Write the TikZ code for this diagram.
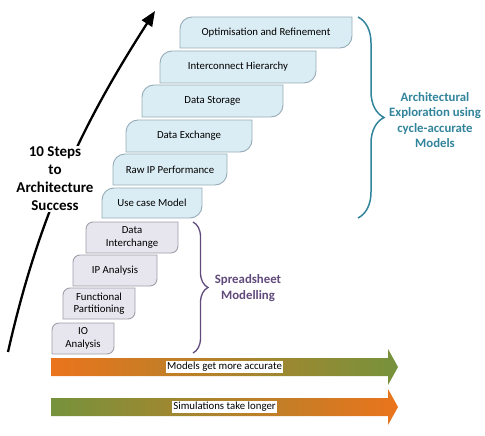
\documentclass[tikz,border=0pt]{standalone}
\usepackage{fontspec}
\setmainfont{Carlito}
\usetikzlibrary{decorations.pathreplacing,arrows.meta}
\definecolor{boxblue}{RGB}{219,237,244}
\definecolor{boxblueline}{RGB}{150,172,184}
\definecolor{boxgray}{RGB}{231,229,237}
\definecolor{boxgrayline}{RGB}{160,160,170}
\definecolor{archteal}{RGB}{49,132,155}
\definecolor{sheetpurple}{RGB}{96,74,123}
\definecolor{accorange}{RGB}{234,116,28}
\definecolor{accgreen}{RGB}{118,146,60}
\tikzset{
  bluebox/.style={fill=boxblue,draw=boxblueline,line width=0.9pt},
  graybox/.style={fill=boxgray,draw=boxgrayline,line width=0.9pt},
  boxtext/.style={inner sep=0pt,align=center,font=\fontsize{10.8}{12.6}\selectfont},
  bracelabel/.style={align=center,font=\fontsize{12.8}{15.3}\selectfont\bfseries},
  barlabel/.style={fill=white,inner sep=1.5pt,font=\fontsize{10.8}{12.6}\selectfont},
}
\newcommand\leafbox[8]{%
  \draw[#7] (#2,-#5) -- (#2,-#3-#6) arc[start angle=180,end angle=90,radius=#6pt]
    -- (#4,-#3) -- (#4,-#5+#6) arc[start angle=0,end angle=-90,radius=#6pt] -- cycle;
  \node[boxtext] (#1) at ({(#2+#4)/2},{-(#3+#5)/2}) {#8};}
\begin{document}
\begin{tikzpicture}[x=1pt,y=1pt]
\useasboundingbox (0,0) rectangle (485,-436);
% blue steps
\leafbox{opt}{180}{17}{352}{48}{12}{bluebox}{Optimisation and Refinement}
\leafbox{ich}{160}{51}{316}{83}{12}{bluebox}{Interconnect Hierarchy}
\leafbox{dst}{142}{85}{283}{117}{12}{bluebox}{Data Storage}
\leafbox{dex}{126}{120}{252}{152}{12}{bluebox}{Data Exchange}
\leafbox{rip}{113}{154}{227}{185}{12}{bluebox}{Raw IP Performance}
\leafbox{ucm}{102}{188}{202}{218}{12}{bluebox}{Use case Model}
% gray steps
\leafbox{din}{86}{222}{178}{253}{7}{graybox}{Data\\Interchange}
\leafbox{ipa}{73}{255}{157}{286}{7}{graybox}{IP Analysis}
\leafbox{fpa}{63}{288}{135}{319}{7}{graybox}{Functional\\Partitioning}
\leafbox{ioa}{52}{323}{114}{354}{7}{graybox}{IO\\Analysis}
% braces
\coordinate (bt) at (358,-17);
\coordinate (bb) at (358,-218);
\draw[archteal,line width=1.5pt,decorate,decoration={brace,amplitude=26pt}] (bt) -- (bb);
\node[bracelabel,text=archteal] (arch) at (435,-120) {Architectural\\Exploration using\\cycle-accurate\\Models};
\coordinate (pt) at (193,-222);
\coordinate (pb) at (193,-353);
\draw[sheetpurple,line width=1.3pt,decorate,decoration={brace,amplitude=15pt}] (pt) -- (pb);
\node[bracelabel,text=sheetpurple] (sheet) at (248,-288) {Spreadsheet\\Modelling};
% big curved arrow
\coordinate (arrS) at (8,-352);
\coordinate (arrE) at (155,-11);
\draw[line width=2.3pt,-{Triangle[length=15pt,width=12pt]}] (arrS) .. controls (40,-210) and (85,-120) .. (arrE);
\node[fill=white,inner sep=1pt,align=center,font=\fontsize{15}{18}\selectfont\bfseries] (steps) at (55,-179) {10 Steps\\to\\Architecture\\Success};
% bottom arrows
\shade[left color=accorange,right color=accgreen] (51,-358) -- (388,-358) -- (388,-349) -- (398,-367) -- (388,-385) -- (388,-376) -- (51,-376) -- cycle;
\node[barlabel] (acc) at (224.5,-367) {Models get more accurate};
\shade[left color=accgreen,right color=accorange] (51,-398) -- (388,-398) -- (388,-389) -- (398,-407) -- (388,-425) -- (388,-416) -- (51,-416) -- cycle;
\node[barlabel] (sim) at (224.5,-407) {Simulations take longer};
\end{tikzpicture}
\end{document}
